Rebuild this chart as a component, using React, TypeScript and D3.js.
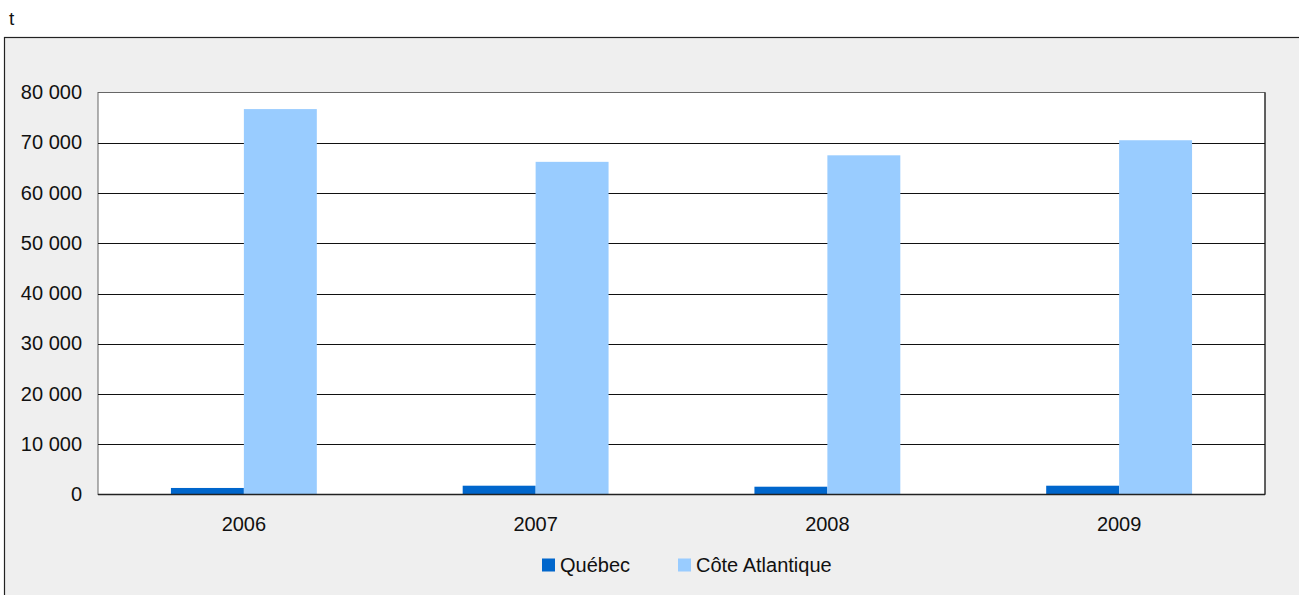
import React from "react";
import * as d3 from "d3";

const categories = ["2006", "2007", "2008", "2009"];
const seriesNames = ["Québec", "Côte Atlantique"];
const quebecValues = [1300, 1750, 1550, 1750];
const coteValues = [76700, 66200, 67500, 70500];
const seriesColors = ["#0066cc", "#99ccff"];
const yTicks = [0, 10000, 20000, 30000, 40000, 50000, 60000, 70000, 80000];
const unitLabel = "t";

const W = 1299;
const H = 595;
const plot = { left: 98, right: 1265, top: 92.5, bottom: 494.5 };
const font = "'Liberation Sans', Arial, sans-serif";

export default function App() {
  const x = d3.scaleBand<string>().domain(categories).range([plot.left, plot.right]).paddingInner(0).paddingOuter(0);
  const y = d3.scaleLinear().domain([0, 80000]).range([plot.bottom, plot.top]);
  const barW = x.bandwidth() * 0.25;
  const fmt = (v: number) => d3.format(",")(v).replace(/,/g, " ");
  const series = [quebecValues, coteValues];

  return (
    <svg width={W} height={H} style={{ position: "absolute", left: 0, top: 0, display: "block" }} fontFamily={font}>
      <rect x={0} y={0} width={W} height={H} fill="#ffffff" />
      <rect x={4.5} y={37.5} width={W + 10} height={H} fill="#efefef" stroke="#222" strokeWidth={1.2} />
      <text x={9} y={25} fontSize={19} fill="#111">{unitLabel}</text>
      <rect x={plot.left} y={plot.top} width={plot.right - plot.left} height={plot.bottom - plot.top} fill="#ffffff" stroke="#666" strokeWidth={1} />
      <line x1={plot.right} x2={plot.right} y1={plot.top} y2={plot.bottom} stroke="#111" />
      {yTicks.map((t) => (
        <g key={t}>
          {t > 0 && t < 80000 && (
            <line x1={plot.left} x2={plot.right} y1={Math.round(y(t)) + 0.5} y2={Math.round(y(t)) + 0.5} stroke="#111" strokeWidth={1} />
          )}
          <text x={82} y={y(t)} dy="0.33em" textAnchor="end" fontSize={20} fill="#111">
            {fmt(t)}
          </text>
        </g>
      ))}
      {categories.map((c, i) => {
        const cx = (x(c) as number) + x.bandwidth() / 2;
        return (
          <g key={c}>
            {series.map((vals, s) => (
              <rect
                key={s}
                x={cx - barW + s * barW}
                y={y(vals[i])}
                width={barW}
                height={plot.bottom - y(vals[i])}
                fill={seriesColors[s]}
              />
            ))}
            <text x={cx} y={524} dy="0.35em" textAnchor="middle" fontSize={20} fill="#111">
              {c}
            </text>
          </g>
        );
      })}
      <line x1={plot.left} x2={plot.right} y1={plot.bottom} y2={plot.bottom} stroke="#222" strokeWidth={1.5} />
      {seriesNames.map((n, i) => {
        const lx = [542, 678][i];
        return (
          <g key={n}>
            <rect x={lx} y={558.5} width={13} height={13} fill={seriesColors[i]} />
            <text x={lx + 18} y={565} dy="0.35em" fontSize={20} fill="#111">
              {n}
            </text>
          </g>
        );
      })}
    </svg>
  );
}
